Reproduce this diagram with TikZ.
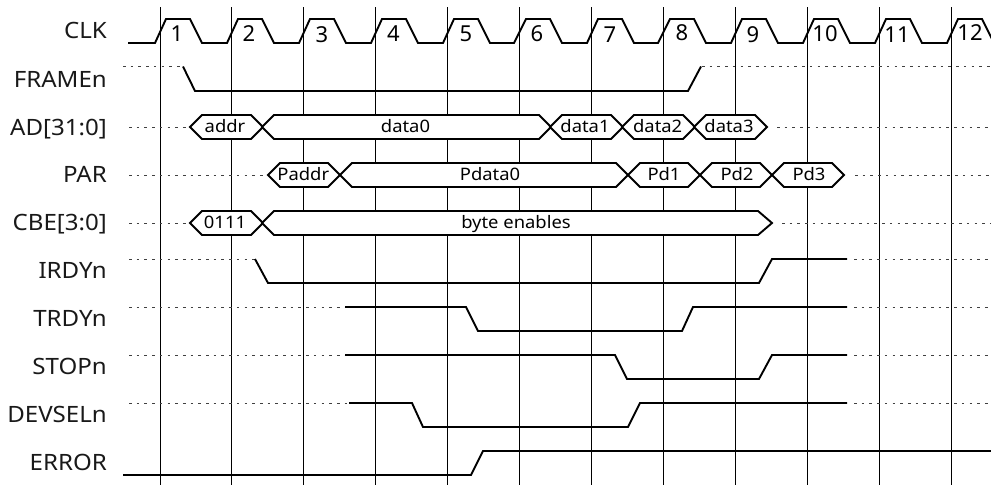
\documentclass[tikz,border=0pt]{standalone}
\usepackage{fontspec}
\setmainfont{Noto Sans}
\newfontfamily\widefont[FakeStretch=1.07]{Noto Sans}
\tikzset{
  x=1pt,y=-1pt,
  grid/.style={draw=black,line width=0.9pt},
  wave/.style={draw=black,line width=1.9pt,line join=miter,line cap=butt},
  idle/.style={draw=black!75,line width=1pt,dash pattern=on 2.6pt off 5.1pt},
  bus/.style={wave,fill=white},
  sig/.style={anchor=base east,font=\widefont\fontsize{22.5}{26}\selectfont,inner sep=0pt,text=black!90},
  num/.style={anchor=base,font=\fontsize{22}{26}\selectfont,inner sep=0pt},
  val/.style={anchor=base,font=\widefont\fontsize{17.2}{20}\selectfont,inner sep=0pt}
}
\begin{document}
\begin{tikzpicture}
\useasboundingbox (0,0) rectangle (991,485);
% clock grid
\foreach \gx in {160,231.5,303.5,375.5,447.5,519.5,591.5,663.5,735.5,807.5,879.5,951.5}
  \draw[grid] (\gx,7) -- (\gx,485);
% signal names
\foreach \nm/\ny/\tx in {clk/38.5/CLK,frame/87/FRAMEn,ad/135/{AD[31:0]},par/182.5/PAR,cbe/230.5/{CBE[3:0]},irdy/278/IRDYn,trdy/326/TRDYn,stop/374/STOPn,devsel/422/DEVSELn,error/470/ERROR}
  \node[sig] (\nm) at (107,\ny) {\tx};
% CLK
\draw[wave] (128,43) -- (155,43) -- (166,19) -- (190,19) -- (202,43) -- (227,43) -- (238,19) -- (262,19) -- (274,43) -- (299,43) -- (310,19) -- (334,19) -- (346,43) -- (371,43) -- (382,19) -- (406,19) -- (418,43) -- (443,43) -- (454,19) -- (478,19) -- (490,43) -- (514,43) -- (526,19) -- (550,19) -- (562,43) -- (587,43) -- (598,19) -- (622,19) -- (634,43) -- (658,43) -- (670,19) -- (694,19) -- (706,43) -- (731,43) -- (742,19) -- (766,19) -- (778,43) -- (803,43) -- (814,19) -- (838,19) -- (850,43) -- (875,43) -- (886,19) -- (910,19) -- (922,43) -- (947,43) -- (958,19) -- (982,19) -- (994,43);
\foreach \nx/\ny/\tx in {177/41/1,249/41/2,322/42.7/3,393.5/41/4,466/41/5,537/41/6,610/42/7,682/40/8,753/42/9,825/41/10,897/42/11,970/40/12}
  \node[num] (n\tx) at (\nx,\ny) {\tx};
% idle levels
\draw[idle] (123,66.5) -- (183,66.5);
\draw[idle] (702,66.5) -- (991,66.5);
\draw[idle] (129,127) -- (188,127);
\draw[idle] (777,127) -- (991,127);
\draw[idle] (129,175) -- (266,175);
\draw[idle] (855,175) -- (991,175);
\draw[idle] (129,223) -- (188,223);
\draw[idle] (782,223) -- (991,223);
\foreach \wy/\wx in {259/255,307/345,355/345,403/349}{
  \draw[idle] (129,\wy) -- (\wx,\wy);
  \draw[idle] (854,\wy) -- (991,\wy);
}
% single-bit signals
\draw[wave] (183,66.5) -- (195,91) -- (688,91) -- (701,66.5);
\draw[wave] (255,259) -- (268,283) -- (759,283) -- (772,259) -- (847,259);
\draw[wave] (345,307) -- (466,307) -- (478,331) -- (682,331) -- (693,307) -- (847,307);
\draw[wave] (345,355) -- (615,355) -- (627,379) -- (759,379) -- (772,355) -- (847,355);
\draw[wave] (349,403) -- (412,403) -- (423,427) -- (628,427) -- (640,403) -- (847,403);
\draw[wave] (123,475) -- (471,475) -- (483,451) -- (991,451);
% buses
\draw[bus] (190,127) -- (202,115) -- (251,115) -- (263,127) -- (251,139) -- (202,139) -- cycle;
\draw[bus] (262,127) -- (274,115) -- (539,115) -- (551,127) -- (539,139) -- (274,139) -- cycle;
\draw[bus] (550,127) -- (562,115) -- (611,115) -- (623,127) -- (611,139) -- (562,139) -- cycle;
\draw[bus] (622,127) -- (634,115) -- (683,115) -- (695,127) -- (683,139) -- (634,139) -- cycle;
\draw[bus] (694,127) -- (706,115) -- (755,115) -- (767,127) -- (755,139) -- (706,139) -- cycle;
\draw[bus] (268,175) -- (280,163) -- (328,163) -- (340,175) -- (328,187) -- (280,187) -- cycle;
\draw[bus] (340,175) -- (352,163) -- (616,163) -- (628,175) -- (616,187) -- (352,187) -- cycle;
\draw[bus] (628,175) -- (640,163) -- (688,163) -- (700,175) -- (688,187) -- (640,187) -- cycle;
\draw[bus] (700,175) -- (712,163) -- (760,163) -- (772,175) -- (760,187) -- (712,187) -- cycle;
\draw[bus] (772,175) -- (784,163) -- (832,163) -- (844,175) -- (832,187) -- (784,187) -- cycle;
\draw[bus] (190,223) -- (202,211) -- (251,211) -- (263,223) -- (251,235) -- (202,235) -- cycle;
\draw[bus] (262,223) -- (274,211) -- (758,211) -- (772,223) -- (758,235) -- (274,235) -- cycle;
% bus values
\foreach \nm/\nx/\ny/\tx in {va/225/132.7/addr,vb/405.5/132.7/data0,vc/585/132.7/data1,vd/657.7/132.7/data2,ve/729/132.7/data3,vf/303.3/180.5/Paddr,vg/490/180.5/Pdata0,vh/664/180.5/Pd1,vi/737/180.5/Pd2,vj/809/180.5/Pd3,vk/225/228.5/0111,vl/516/228.5/byte enables}
  \node[val] (\nm) at (\nx,\ny) {\tx};
\end{tikzpicture}
\end{document}
